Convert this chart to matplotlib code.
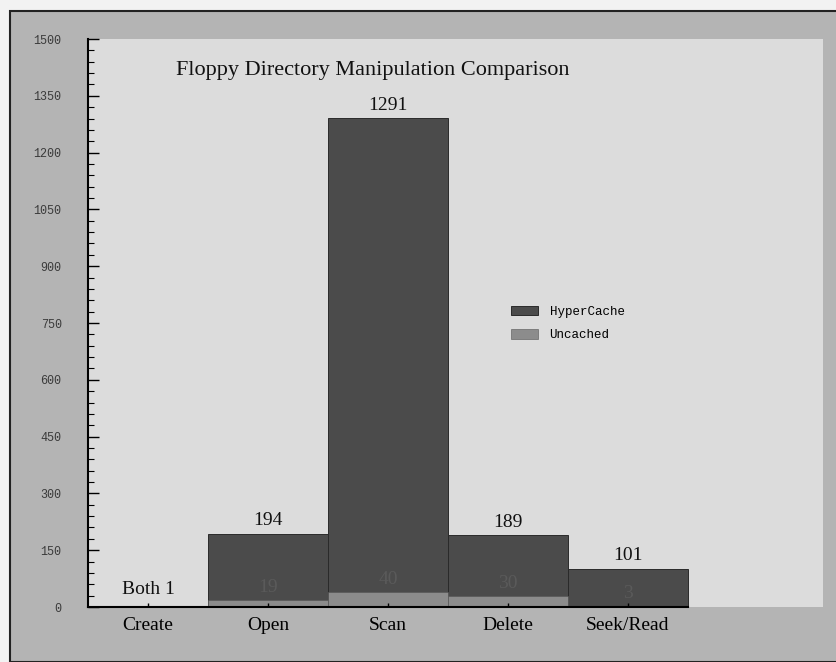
import numpy as np
import matplotlib.pyplot as plt
from matplotlib.patches import Rectangle

categories = ["Create", "Open", "Scan", "Delete", "Seek/Read"]
hypercache = [1, 194, 1291, 189, 101]
uncached = [1, 19, 40, 30, 3]

title = "Floppy Directory Manipulation Comparison"
yticks = np.arange(0, 1501, 150)

dark = "#4b4b4b"
light = "#8c8c8c"

fig = plt.figure(figsize=(8.37, 6.62), dpi=100)
fig.patch.set_facecolor("#f2f2f2")

# outer gray frame of the scanned figure
fig.patches.append(Rectangle((10 / 837, 0), 1, 1 - 11 / 662, transform=fig.transFigure,
                             facecolor="#b4b4b4", edgecolor="#222222", linewidth=1.5, zorder=-10))

ax = fig.add_axes([88 / 837, 55 / 662, 735 / 837, 568 / 662])
ax.set_facecolor("#dcdcdc")

x = np.arange(len(categories))
# Create has no bars, just a note
ax.bar(x[1:], hypercache[1:], width=1.0, color=dark, edgecolor="#2a2a2a", linewidth=0.7, label="HyperCache")
ax.bar(x[1:], uncached[1:], width=1.0, color=light, edgecolor="#555555", linewidth=0.4, label="Uncached")

for i in range(1, len(categories)):
    ax.text(x[i], hypercache[i] + 12, str(hypercache[i]), ha="center", va="bottom",
            family="Liberation Serif", fontsize=14, color="#111111")
    ax.text(x[i], uncached[i] + 32, str(uncached[i]), ha="center", va="center",
            family="Liberation Serif", fontsize=14, color="#5a5a5a")
ax.text(x[0], 45, "Both " + str(hypercache[0]), ha="center", va="center",
        family="Liberation Serif", fontsize=14, color="#111111")

ax.text(0.12, 0.945, title, ha="left", va="center", transform=ax.transAxes,
        family="Liberation Serif", fontsize=16, color="#111111")

ax.set_xlim(-0.5, 5.625)
ax.set_ylim(0, 1500)
ax.set_xticks(x)
ax.set_xticklabels(categories, family="Liberation Serif", fontsize=14)
ax.set_yticks(yticks)
ax.set_yticklabels([str(v) for v in yticks], family="Liberation Mono", fontsize=8.5, color="#3a3a3a")
ax.set_yticks(np.arange(0, 1501, 30), minor=True)
ax.tick_params(axis="y", which="major", direction="in", length=8, width=1, pad=19)
ax.tick_params(axis="y", which="minor", direction="in", length=4, width=0.8)
ax.tick_params(axis="x", which="major", direction="in", length=3, width=1, pad=7)

for s in ["top", "right"]:
    ax.spines[s].set_visible(False)
ax.spines["left"].set_linewidth(1.5)
ax.spines["bottom"].set_linewidth(1.5)
ax.spines["bottom"].set_bounds(-0.5, 4.5)

leg = ax.legend(loc="upper left", bbox_to_anchor=(0.56, 0.55), frameon=False,
                prop={"family": "Liberation Mono", "size": 9}, handlelength=2.2, handleheight=0.8,
                labelspacing=0.9, handletextpad=0.9)

fig.savefig("out.png", dpi=100, facecolor=fig.get_facecolor())
